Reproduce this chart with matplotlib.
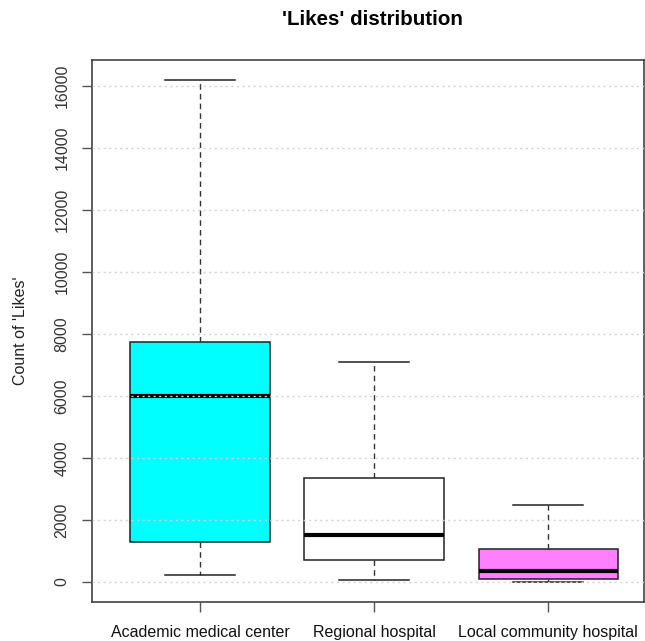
import matplotlib.pyplot as plt
import numpy as np

plt.rcParams['font.family'] = ['Liberation Sans', 'DejaVu Sans']

# data
kategori = ["Academic medical center", "Regional hospital", "Local community hospital"]
whisker_low = [230, 65, 0]
q1 = [1300, 710, 100]
median = [6000, 1520, 360]
q3 = [7740, 3340, 1070]
whisker_high = [16200, 7090, 2470]
warna = ["#00FFFF", "#FFFFFF", "#FF80FF"]
yticks = [0, 2000, 4000, 6000, 8000, 10000, 12000, 14000, 16000]

stats = []
for i in range(len(kategori)):
    stats.append({
        "label": kategori[i],
        "whislo": whisker_low[i],
        "q1": q1[i],
        "med": median[i],
        "q3": q3[i],
        "whishi": whisker_high[i],
        "fliers": [],
    })

fig = plt.figure(figsize=(6.45, 6.41), dpi=100)
ax = fig.add_axes([0.1426, 0.0608, 0.8558, 0.8456])

bp = ax.bxp(stats, positions=[1, 2, 3], widths=0.8, patch_artist=True,
            showfliers=False,
            boxprops={"edgecolor": "#222222", "linewidth": 1.1},
            medianprops={"color": "black", "linewidth": 3, "solid_capstyle": "butt"},
            whiskerprops={"color": "#333333", "linestyle": (0, (4, 3)), "linewidth": 1},
            capprops={"color": "#222222", "linewidth": 1.1},
            capwidths=0.4)
for patch, c in zip(bp["boxes"], warna):
    patch.set_facecolor(c)
    patch.set_zorder(2)

# grid digambar di atas boxplot (seperti di R)
for y in yticks:
    ax.axhline(y, color="#d3d3d3", linestyle=(0, (1.5, 2.5)), linewidth=1, zorder=5)

ax.set_xlim(0.38, 3.55)
ax.set_ylim(-648, 16848)
ax.set_yticks(yticks)
ax.set_yticklabels([str(v) for v in yticks], rotation=90, va="center",
                   fontsize=11.5, color="#333333")
ax.set_xticks([1, 2, 3])
ax.set_xticklabels(kategori, fontsize=11.5, color="#111111")
ax.tick_params(axis="both", direction="out", length=7.2, width=1, color="#555555")
ax.tick_params(axis="x", pad=9)
ax.tick_params(axis="y", pad=9)

for s in ["top", "right", "bottom", "left"]:
    ax.spines[s].set_color("#333333")
    ax.spines[s].set_linewidth(1.1)

ax.set_ylabel("Count of 'Likes'", fontsize=11.5, color="#222222", labelpad=19)
fig.text(0.578, 0.969, "'Likes' distribution", fontsize=14.8, fontweight="bold",
         ha="center", va="center")

plt.savefig("out.png", dpi=100)
